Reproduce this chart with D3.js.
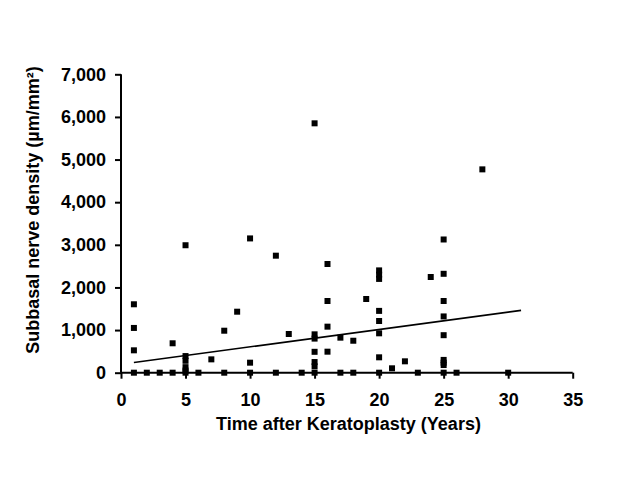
<!DOCTYPE html>
<html><head><meta charset="utf-8">
<script src="https://cdn.jsdelivr.net/npm/d3@7"></script>
<style>body{margin:0;background:#fff}svg{display:block}</style>
</head><body>
<svg id="c" width="640" height="480"></svg>
<script>
const years   = [1,1,1,1, 2, 3, 4,4, 5,5,5,5,5,5, 6, 7, 8,8, 9, 10,10,10, 12,12, 13, 14,
  15,15,15,15,15,15,15, 16,16,16,16, 17,17, 18,18, 19, 20,20,20,20,20,20,20,20, 21, 22, 23, 24,
  25,25,25,25,25,25,25,25,25, 26, 28, 30];
const density = [1605,1050,525,0, 0, 0, 690,0, 2990,390,280,130,50,0, 0, 313, 985,0, 1431, 3150,235,0, 2745,0, 908, 0,
  5850,900,800,490,250,150,0, 2550,1682,1080,493, 822,0, 750,0, 1729, 2400,2300,2200,1450,1213,924,361,0, 103, 267, 0, 2245,
  3125,2320,1682,1320,880,300,235,180,0, 0, 4770, 0];
const trendX = [1, 31];
const trendY = [239, 1463];
const xTicks = [0,5,10,15,20,25,30,35];
const yTicks = [0,1000,2000,3000,4000,5000,6000,7000];
const xTitle = "Time after Keratoplasty (Years)";
const yTitle = "Subbasal nerve density (µm/mm²)";

const svg = d3.select("#c");
const x = d3.scaleLinear().domain([0,35]).range([121,572.7]);
const y = d3.scaleLinear().domain([0,7000]).range([372.7,74.3]);
const font = "'Liberation Sans', Arial, sans-serif";

const gx = svg.append("g").attr("transform",`translate(0,${y(0)})`)
  .call(d3.axisBottom(x).tickValues(xTicks).tickSize(6).tickPadding(15).tickFormat(d3.format("d")));
const gy = svg.append("g").attr("transform",`translate(${x(0)},0)`)
  .call(d3.axisLeft(y).tickValues(yTicks).tickSize(6).tickPadding(9).tickFormat(d3.format(",")));
[gx,gy].forEach(g=>{
  g.select(".domain").attr("stroke","#000").attr("stroke-width",2);
  g.selectAll(".tick line").attr("stroke","#000").attr("stroke-width",2);
  g.selectAll(".tick text").attr("fill","#000").style("font-family",font)
    .style("font-weight","bold").style("font-size","18px");
});
gx.select(".domain").attr("d",`M${x(0)},0H${x(35)}`);
gy.select(".domain").attr("d",`M0,${y(0)}V${y(7000)}`);

svg.append("g").selectAll("rect").data(years.map((d,i)=>[d,density[i]])).join("rect")
  .attr("x",d=>x(d[0])-3).attr("y",d=>y(d[1])-3).attr("width",6).attr("height",6).attr("fill","#000");

svg.append("path").datum(trendX.map((d,i)=>[d,trendY[i]]))
  .attr("d",d3.line().x(d=>x(d[0])).y(d=>y(d[1])))
  .attr("stroke","#000").attr("stroke-width",1.6).attr("fill","none");

svg.append("text").attr("x",348.5).attr("y",430).attr("text-anchor","middle")
  .style("font-family",font).style("font-weight","bold").style("font-size","18px").text(xTitle);
svg.append("text").attr("transform",`translate(39,210) rotate(-90)`).attr("text-anchor","middle")
  .style("font-family",font).style("font-weight","bold").style("font-size","18px").text(yTitle);
</script>
</body></html>
